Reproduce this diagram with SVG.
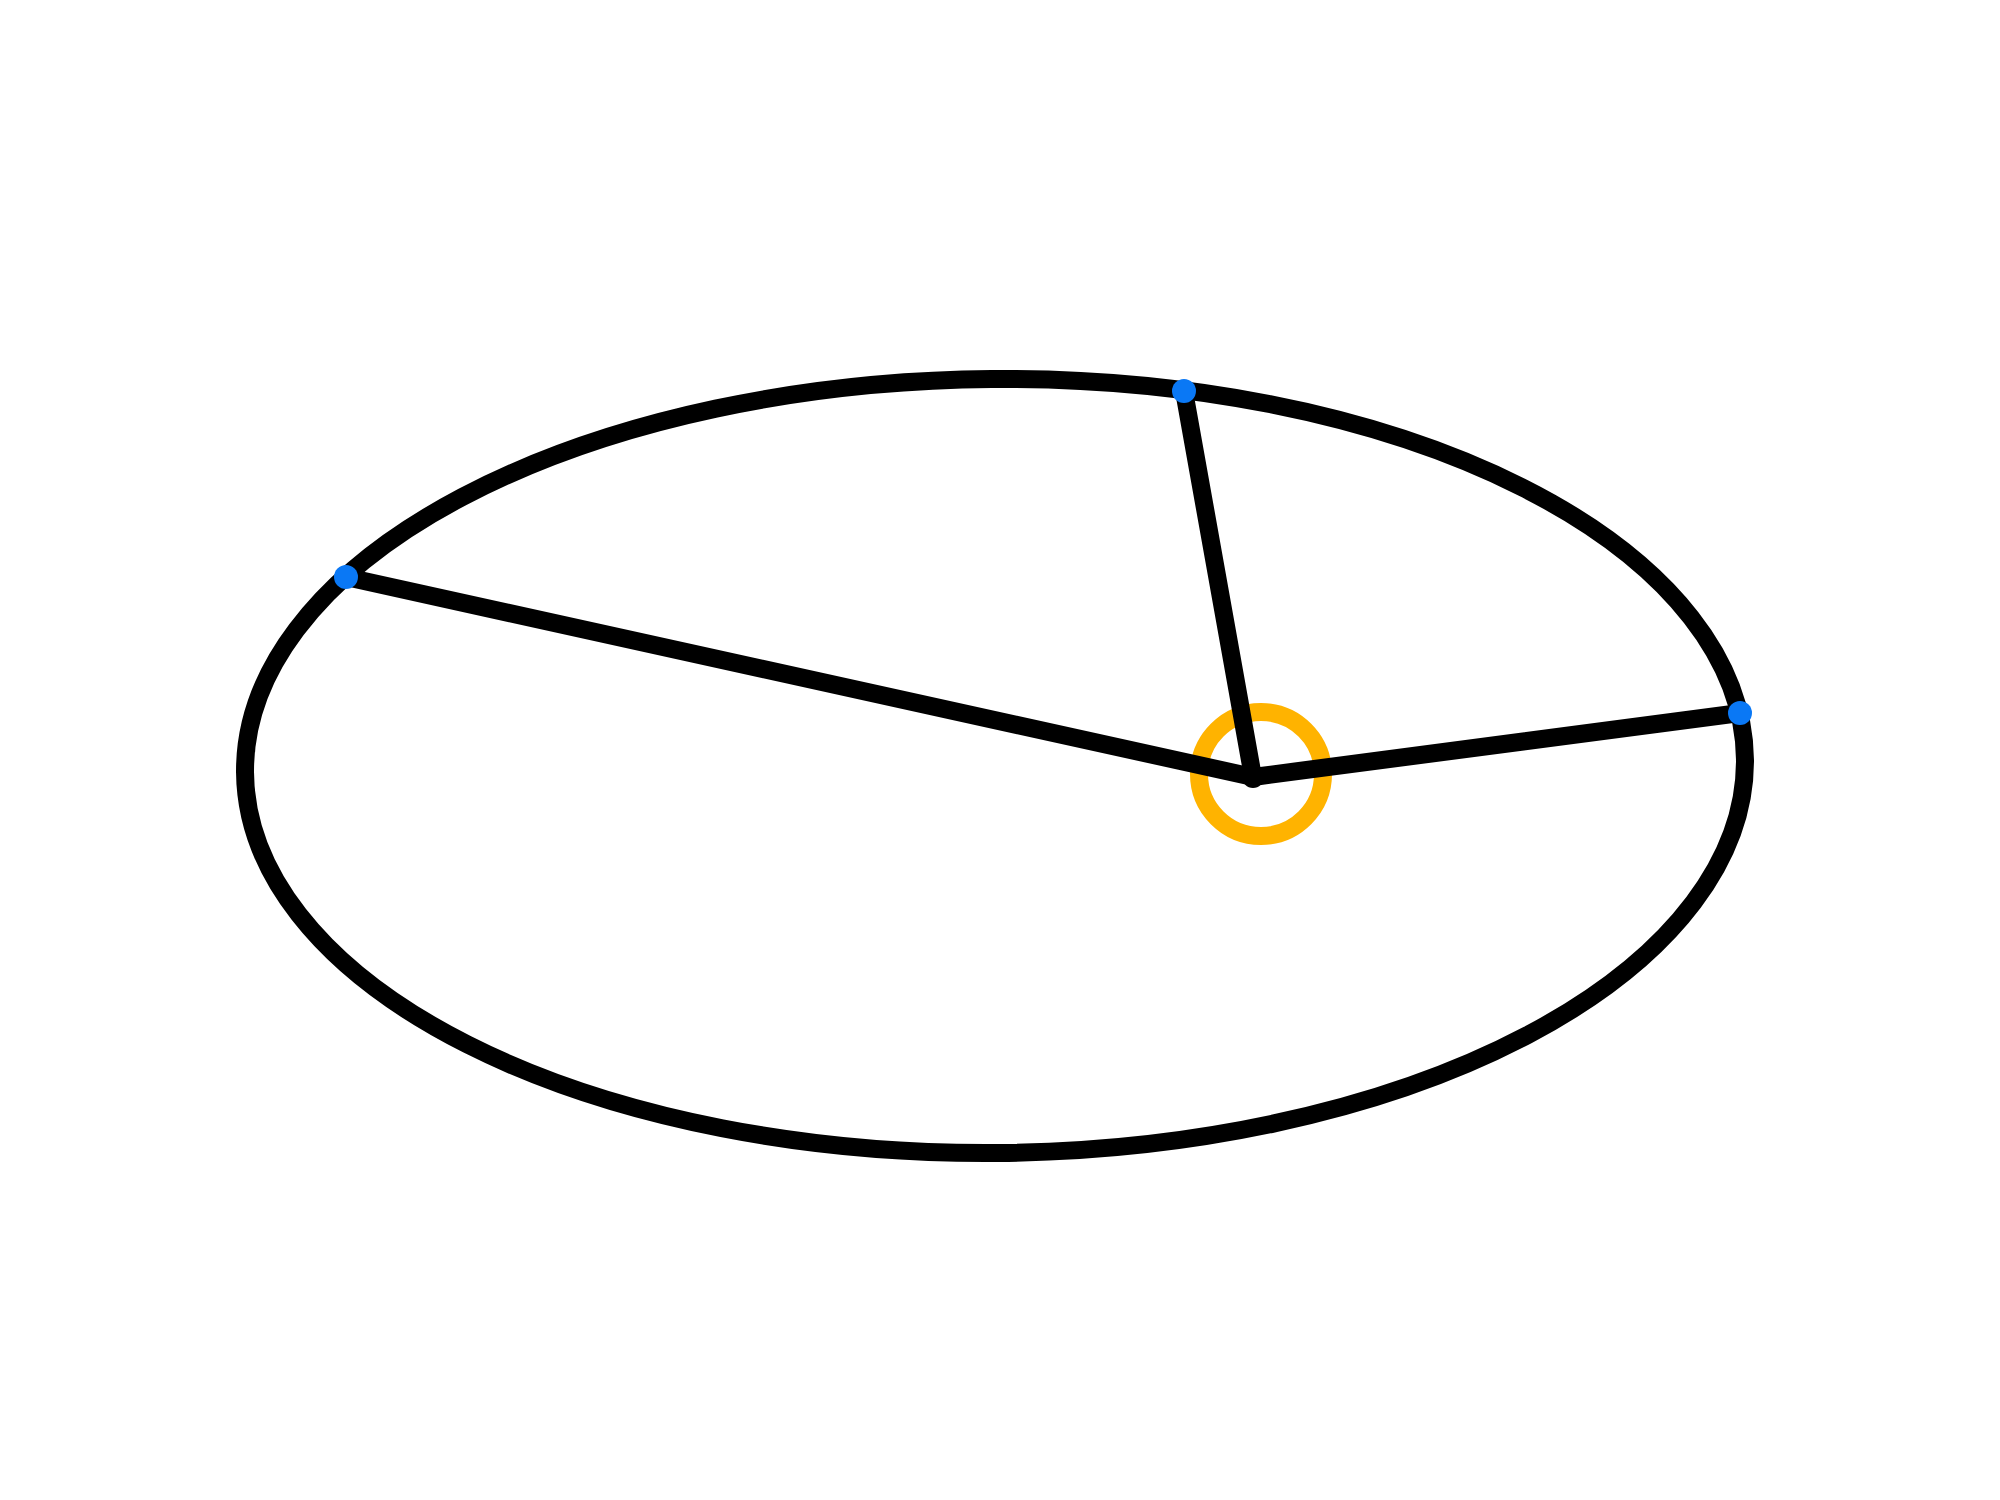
<svg xmlns="http://www.w3.org/2000/svg" width="2000" height="1500" viewBox="0 0 2000 1500">
<style>
.stroke{fill:none;stroke:#000;stroke-width:18;stroke-linecap:round;stroke-linejoin:round}
.pt{fill:#0a78f5}
.focus{fill:none;stroke:#ffb300;stroke-width:18}
</style>
<rect width="2000" height="1500" fill="#fff"/>
<g id="ellipse">
<ellipse class="stroke" cx="995" cy="766" rx="750" ry="387" transform="rotate(-0.5 995 766)"/>
</g>
<g id="focus">
<circle class="focus" cx="1261" cy="774" r="62"/>
</g>
<g id="connectors">
<line class="stroke" x1="1253" y1="777" x2="346" y2="577"/>
<line class="stroke" x1="1253" y1="777" x2="1184" y2="391"/>
<line class="stroke" x1="1253" y1="777" x2="1740" y2="713"/>
</g>
<g id="center">
<circle cx="1253" cy="777" r="11" fill="#000"/>
</g>
<g id="p1"><circle class="pt" cx="346" cy="577" r="12"/></g>
<g id="p2"><circle class="pt" cx="1184" cy="391" r="12"/></g>
<g id="p3"><circle class="pt" cx="1740" cy="713" r="12"/></g>
</svg>
